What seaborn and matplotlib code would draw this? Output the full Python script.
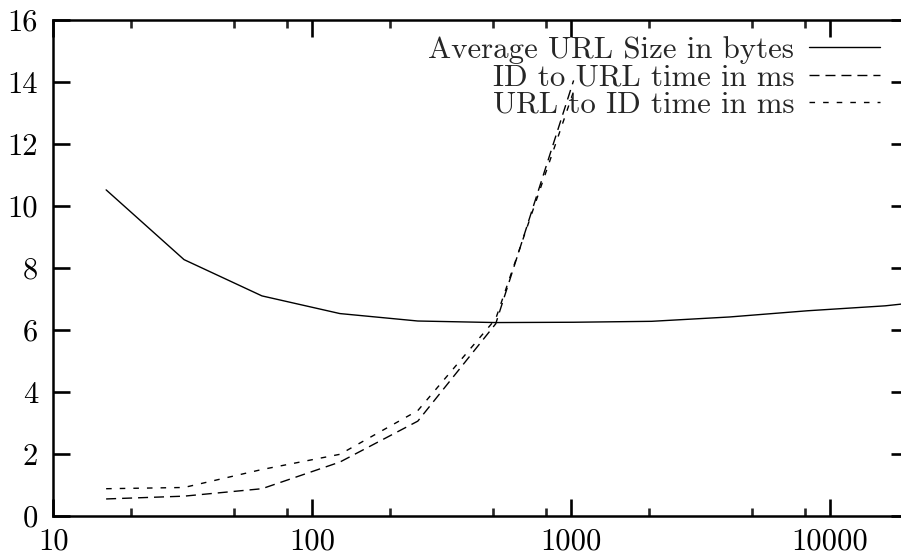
import matplotlib
matplotlib.use("Agg")
import matplotlib.pyplot as plt
import seaborn as sns
import pandas as pd
from matplotlib.ticker import FixedLocator, NullFormatter, NullLocator

# ---- data ----
n_size = [16, 32, 64, 128, 256, 512, 1024, 2048, 4096, 8192, 16384, 32768]
url_size = [10.52, 8.27, 7.1, 6.53, 6.29, 6.24, 6.25, 6.28, 6.42, 6.62, 6.78, 7.05]
n_time = [16, 32, 64, 128, 256, 512, 1024]
id_to_url = [0.55, 0.64, 0.88, 1.74, 3.06, 6.2, 14.05]
url_to_id = [0.88, 0.92, 1.5, 1.99, 3.4, 6.36, 13.7]

labels = ["Average URL Size in bytes", "ID to URL time in ms", "URL to ID time in ms"]
x_ticks = [10, 100, 1000, 10000]
x_tick_labels = ["10", "100", "1000", "10000"]
x_minor = [20, 50, 80, 200, 500, 800, 2000, 5000, 8000]
y_ticks = [0, 2, 4, 6, 8, 10, 12, 14, 16]

sns.set_style("ticks")
plt.rcParams["font.family"] = ["cmr10", "DejaVu Serif"]
plt.rcParams["axes.formatter.use_mathtext"] = True
plt.rcParams["lines.scale_dashes"] = False

W, H = 901, 556
fig = plt.figure(figsize=(W / 100, H / 100), dpi=100)
left, right, top, bottom = 53.3, 907.7, 20.0, 516.0
ax = fig.add_axes([left / W, (H - bottom) / H, (right - left) / W, (bottom - top) / H])

df_size = pd.DataFrame({"n": n_size, "v": url_size})
df_a = pd.DataFrame({"n": n_time, "v": id_to_url})
df_b = pd.DataFrame({"n": n_time, "v": url_to_id})

sns.lineplot(data=df_size, x="n", y="v", ax=ax, color="black", lw=1.0, label=labels[0])
sns.lineplot(data=df_a, x="n", y="v", ax=ax, color="black", lw=1.0,
             linestyle=(0, (7.2, 4.3)), label=labels[1])
sns.lineplot(data=df_b, x="n", y="v", ax=ax, color="black", lw=1.0,
             linestyle=(0, (4.0, 5.8)), label=labels[2])

ax.set_xscale("log")
ax.set_xlim(10, 20000)
ax.set_ylim(0, 16)
ax.set_xlabel("")
ax.set_ylabel("")

ax.xaxis.set_major_locator(FixedLocator(x_ticks))
ax.set_xticklabels(x_tick_labels)
ax.xaxis.set_minor_locator(FixedLocator(x_minor))
ax.xaxis.set_minor_formatter(NullFormatter())
ax.set_yticks(y_ticks)
ax.set_yticklabels([str(v) for v in y_ticks])
ax.yaxis.set_minor_locator(NullLocator())

for s in ax.spines.values():
    s.set_visible(True)
    s.set_linewidth(1.8)
    s.set_color("black")

ax.tick_params(which="major", direction="in", length=12.2, width=1.9,
               top=True, right=True, labelsize=22, colors="black")
ax.tick_params(which="minor", direction="in", length=5.8, width=1.9,
               top=True, right=True)
ax.tick_params(axis="y", which="major", pad=11)
ax.tick_params(axis="x", which="major", pad=9)

leg = ax.legend(loc="upper right", bbox_to_anchor=(0.9676, 0.968), frameon=False,
                markerfirst=False, fontsize=22.2, handlelength=2.3,
                handletextpad=0.48, labelspacing=0.0, borderpad=0,
                borderaxespad=0)
for t in leg.get_texts():
    t.set_ha("right")
leg._legend_box.align = "right"

fig.savefig("out.png", dpi=100)
